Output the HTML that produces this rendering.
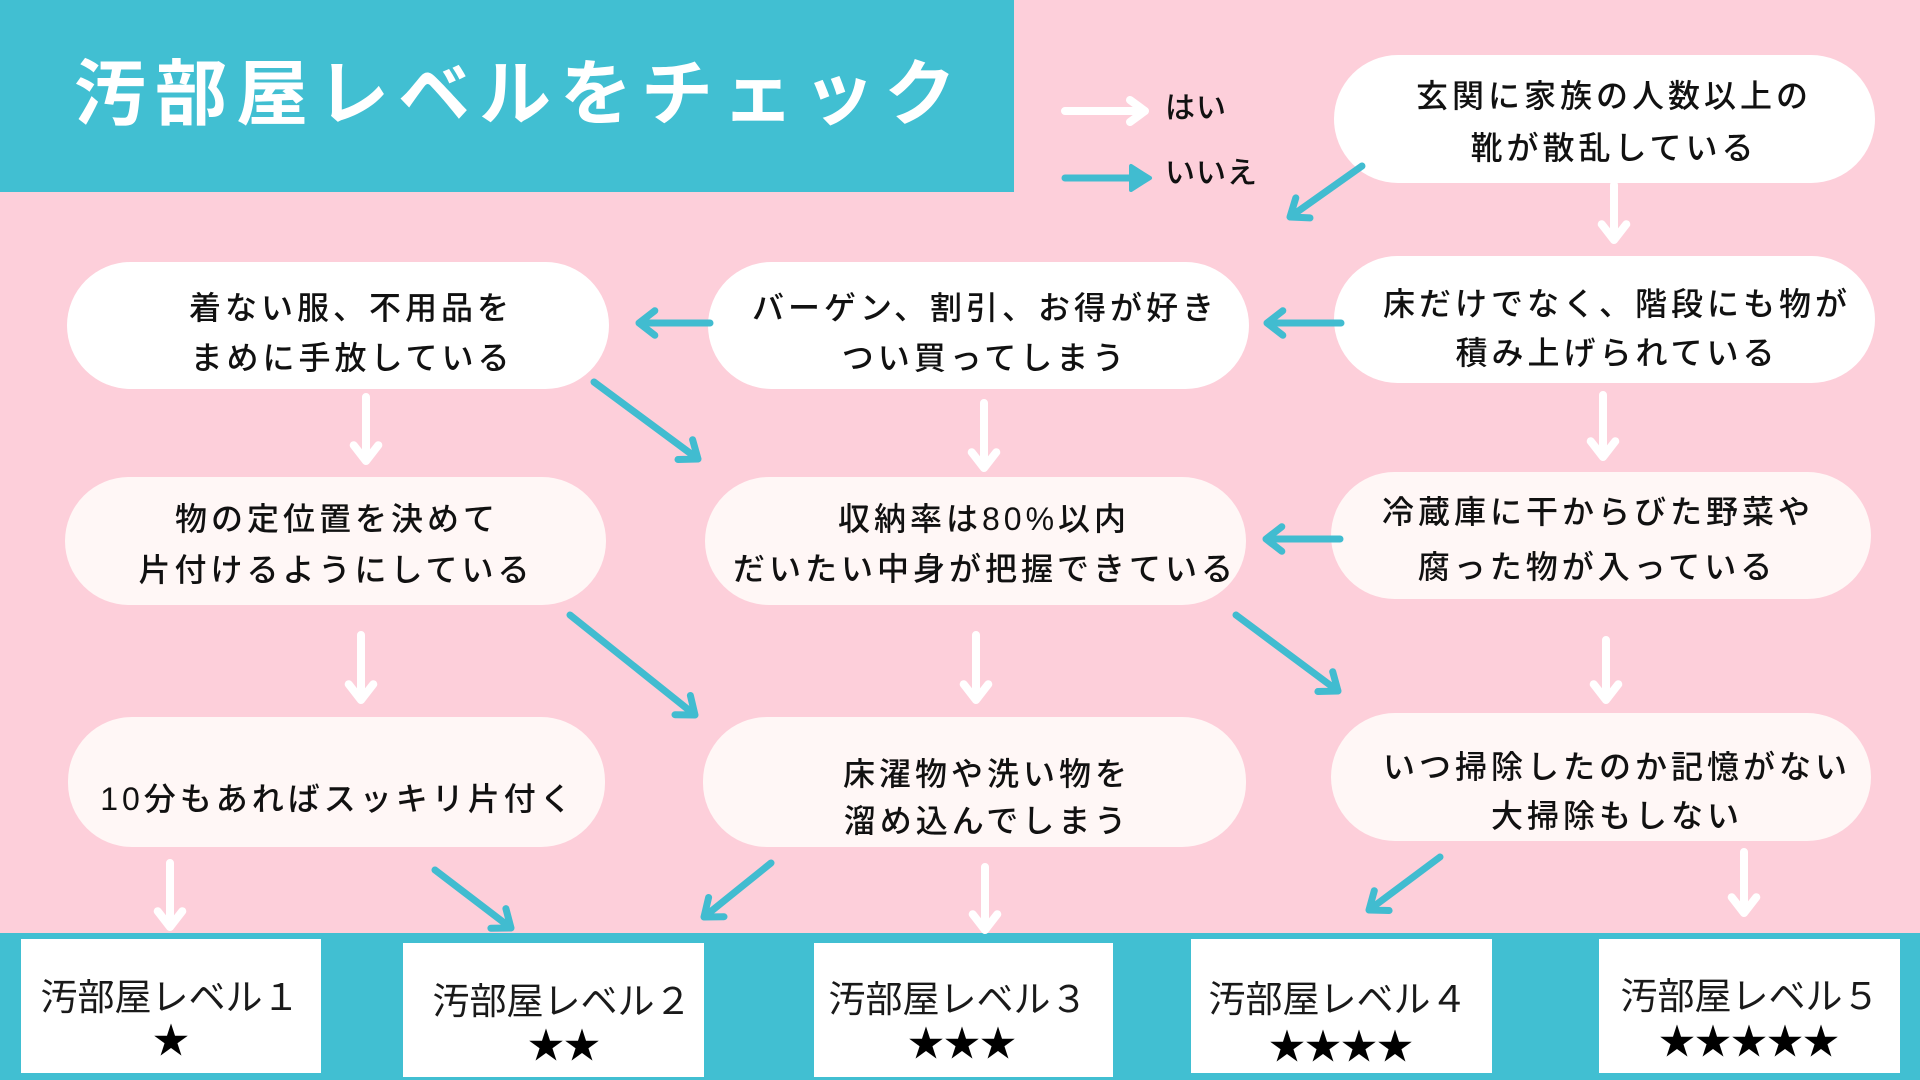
<!DOCTYPE html>
<html lang="ja">
<head>
<meta charset="utf-8">
<style>
  html,body{margin:0;padding:0;}
  body{width:1920px;height:1080px;overflow:hidden;background:#FDCFDA;position:relative;
       font-family:"Liberation Sans","Noto Sans CJK JP",sans-serif;}
  .abs{position:absolute;}
  .title-box{left:0;top:0;width:1014px;height:192px;background:#41BFD2;}
  .title{left:74px;top:50px;height:90px;line-height:90px;font-size:72px;font-weight:700;color:#fff;
         letter-spacing:9px;white-space:nowrap;}
  .band{left:0;top:933px;width:1920px;height:147px;background:#41BFD2;}
  .node{position:absolute;border-radius:64px;background:#fff;}
  .ow{background:#FFF7F6;}
  .t{position:absolute;width:800px;height:40px;line-height:40px;text-align:center;font-size:32px;
     letter-spacing:4px;color:#111;white-space:nowrap;font-weight:500;}
  .lv{position:absolute;background:#fff;}
  .lt{position:absolute;width:400px;height:44px;line-height:44px;text-align:center;font-size:37px;
      color:#1a1a1a;white-space:nowrap;font-weight:400;}
  .st{position:absolute;width:400px;height:40px;line-height:40px;text-align:center;font-size:36px;
      color:#000;white-space:nowrap;}
  .leg{position:absolute;height:40px;line-height:40px;font-size:30px;letter-spacing:1px;color:#111;white-space:nowrap;font-weight:500;}
</style>
</head>
<body>
<div class="abs title-box"></div>
<div class="abs title">汚部屋レベルをチェック</div>
<div class="abs band"></div>

<!-- legend -->
<div class="leg" style="left:1165px;top:89px;">はい</div>
<div class="leg" style="left:1165px;top:154px;">いいえ</div>

<!-- nodes -->
<div class="node" style="left:1334px;top:55px;width:541px;height:128px;"></div>
<div class="node" style="left:1334px;top:256px;width:541px;height:127px;"></div>
<div class="node" style="left:708px;top:262px;width:541px;height:127px;"></div>
<div class="node" style="left:67px;top:262px;width:542px;height:127px;"></div>
<div class="node ow" style="left:65px;top:477px;width:541px;height:128px;"></div>
<div class="node ow" style="left:705px;top:477px;width:541px;height:128px;"></div>
<div class="node ow" style="left:1331px;top:472px;width:540px;height:127px;"></div>
<div class="node ow" style="left:68px;top:717px;width:537px;height:130px;"></div>
<div class="node ow" style="left:703px;top:717px;width:543px;height:130px;"></div>
<div class="node ow" style="left:1331px;top:713px;width:540px;height:128px;"></div>

<!-- node text -->
<div class="t" style="left:1214px;top:76px;">玄関に家族の人数以上の</div>
<div class="t" style="left:1214px;top:128px;">靴が散乱している</div>

<div class="t" style="left:1217px;top:284px;">床だけでなく、階段にも物が</div>
<div class="t" style="left:1217px;top:333px;">積み上げられている</div>

<div class="t" style="left:585px;top:288px;">バーゲン、割引、お得が好き</div>
<div class="t" style="left:585px;top:338px;">つい買ってしまう</div>

<div class="t" style="left:-49px;top:288px;">着ない服、不用品を</div>
<div class="t" style="left:-48px;top:338px;">まめに手放している</div>

<div class="t" style="left:-63px;top:499px;">物の定位置を決めて</div>
<div class="t" style="left:-64px;top:550px;">片付けるようにしている</div>

<div class="t" style="left:584px;top:499px;">収納率は80%以内</div>
<div class="t" style="left:585px;top:549px;">だいたい中身が把握できている</div>

<div class="t" style="left:1198px;top:492px;">冷蔵庫に干からびた野菜や</div>
<div class="t" style="left:1197px;top:547px;">腐った物が入っている</div>

<div class="t" style="left:-62px;top:779px;">10分もあればスッキリ片付く</div>

<div class="t" style="left:587px;top:754px;">床濯物や洗い物を</div>
<div class="t" style="left:587px;top:801px;">溜め込んでしまう</div>

<div class="t" style="left:1217px;top:747px;">いつ掃除したのか記憶がない</div>
<div class="t" style="left:1217px;top:796px;">大掃除もしない</div>

<!-- level boxes -->
<div class="lv" style="left:21px;top:939px;width:300px;height:134px;"></div>
<div class="lv" style="left:403px;top:943px;width:301px;height:134px;"></div>
<div class="lv" style="left:814px;top:943px;width:299px;height:134px;"></div>
<div class="lv" style="left:1191px;top:939px;width:301px;height:134px;"></div>
<div class="lv" style="left:1599px;top:939px;width:301px;height:134px;"></div>

<div class="lt" style="left:-30px;top:976px;">汚部屋レベル１</div>
<div class="st" style="left:-29px;top:1021px;">★</div>

<div class="lt" style="left:362px;top:980px;">汚部屋レベル２</div>
<div class="st" style="left:364px;top:1026px;">★★</div>

<div class="lt" style="left:758px;top:978px;">汚部屋レベル３</div>
<div class="st" style="left:762px;top:1024px;">★★★</div>

<div class="lt" style="left:1138px;top:978px;">汚部屋レベル４</div>
<div class="st" style="left:1141px;top:1027px;">★★★★</div>

<div class="lt" style="left:1550px;top:975px;">汚部屋レベル５</div>
<div class="st" style="left:1549px;top:1022px;">★★★★★</div>

<!-- arrows -->
<svg class="abs" style="left:0;top:0;" width="1920" height="1080" viewBox="0 0 1920 1080">
  <g fill="none" stroke="#ffffff" stroke-width="8" stroke-linecap="round" stroke-linejoin="round">
    <path d="M1065 111 L1145 111 M1130 100 L1145 111 L1130 122"/>
    <path d="M1614 185 L1614 240 M1601.7 224.2 L1614 240 L1626.3 224.2"/>
    <path d="M1603 395 L1603 457 M1590.7 441.2 L1603 457 L1615.3 441.2"/>
    <path d="M1606 640 L1606 700 M1593.7 684.2 L1606 700 L1618.3 684.2"/>
    <path d="M1744 852 L1744 913 M1731.7 897.2 L1744 913 L1756.3 897.2"/>
    <path d="M984 403 L984 468 M971.7 452.2 L984 468 L996.3 452.2"/>
    <path d="M976 635 L976 700 M963.7 684.2 L976 700 L988.3 684.2"/>
    <path d="M366 397 L366 461 M353.7 445.2 L366 461 L378.3 445.2"/>
    <path d="M361 635 L361 700 M348.7 684.2 L361 700 L373.3 684.2"/>
    <path d="M170 863 L170 927 M157.7 911.2 L170 927 L182.3 911.2"/>
    <path d="M985 867 L985 930 M972.7 914.2 L985 930 L997.3 914.2"/>
  </g>
  <g fill="none" stroke="#41BCD0" stroke-width="7" stroke-linecap="round" stroke-linejoin="round">
    <path d="M1065 178 L1138 178"/>
    <path d="M1362 166 L1290 217 M1295.8 197.9 L1290 217 L1310 217.9"/>
    <path d="M1341 323 L1267 323 M1282.8 310.7 L1267 323 L1282.8 335.3"/>
    <path d="M710 323 L639 323 M654.8 310.7 L639 323 L654.8 335.3"/>
    <path d="M1340 539 L1266 539 M1281.8 526.7 L1266 539 L1281.8 551.3"/>
    <path d="M594 382 L698 459 M678 459.5 L698 459 L692.6 439.7"/>
    <path d="M1236 615 L1338 691 M1317.9 691.5 L1338 691 L1332.7 671.7"/>
    <path d="M570 615 L695 715 M675 714.7 L695 715 L690.4 695.5"/>
    <path d="M435 870 L511 928 M490.9 928.2 L511 928 L505.9 908.6"/>
    <path d="M771 863 L704 917 M708.6 897.5 L704 917 L724 916.7"/>
    <path d="M1440 857 L1369 910 M1374.3 890.7 L1369 910 L1389.1 910.5"/>
  </g>
  <polygon points="1150,178 1131,166 1131,190" fill="#41BCD0" stroke="#41BCD0" stroke-width="4" stroke-linejoin="round"/>
</svg>
</body>
</html>
